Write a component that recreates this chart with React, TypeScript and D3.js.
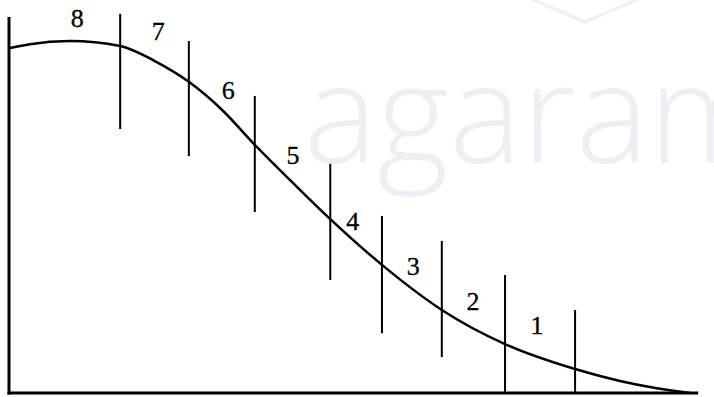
import React from "react";
import * as d3 from "d3";

// Curve samples (abstract units: x 0..100, y 0..100)
const curveX = [0, 2.9, 8.8, 16.2, 21.3, 26.3, 31.2, 36.0, 41.5, 47.1, 54.7, 63.5, 72.8, 83.1, 89.7, 94.9, 100];
const curveY = [98.0, 99.1, 100, 98.6, 94.3, 88.4, 80.4, 70.5, 59.9, 49.4, 36.4, 23.6, 13.9, 6.8, 3.4, 1.4, 0];

// Vertical marker lines
const markerX = [16.2, 26.3, 36.0, 47.1, 54.7, 63.5, 72.8, 83.1];
const markerTop = [107.7, 100, 84.4, 65.1, 50.3, 43.2, 33.5, 23.6];
const markerBottom = [75.0, 67.3, 51.4, 32.1, 17.0, 10.2, 0, 0];

// Segment labels
const labelText = ["8", "7", "6", "5", "4", "3", "2", "1"];
const labelX = [9.9, 21.8, 32.1, 41.6, 50.4, 59.3, 68.1, 77.5];
const labelY = [106.5, 102.6, 85.8, 67.6, 48.6, 35.8, 25.9, 19.3];

const W = 714;
const H = 397;

export default function App() {
  const x = d3.scaleLinear().domain([0, 100]).range([10, 690]);
  const y = d3.scaleLinear().domain([0, 100]).range([393, 41]);

  const pts = curveX.map((v, i) => [v, curveY[i]] as [number, number]);
  const line = d3
    .line<[number, number]>()
    .x((d) => x(d[0]))
    .y((d) => y(d[1]))
    .curve(d3.curveMonotoneX);

  return (
    <svg
      width={W}
      height={H}
      style={{ position: "absolute", left: 0, top: 0, background: "#fff" }}
    >
      {/* watermark */}
      <polyline
        points="527,-3 585,22 643,-3"
        fill="none"
        stroke="#eef0f2"
        strokeWidth={3}
        strokeLinejoin="round"
      />
      <text
        x={304}
        y={163}
        style={{ fontFamily: '"Open Sans", sans-serif', fontWeight: 300 }}
        fontSize={138}
        fill="#edeff2"
      >
        agaram
      </text>

      {/* axes */}
      <line x1={x(0) - 1} x2={x(0) - 1} y1={y(106.8)} y2={y(0) + 1.5} stroke="#000" strokeWidth={3} />
      <line x1={x(0) - 2.5} x2={x(101.2)} y1={y(0)} y2={y(0)} stroke="#000" strokeWidth={3} />

      {/* curve */}
      <path d={line(pts) || ""} fill="none" stroke="#000" strokeWidth={2.5} />

      {/* markers */}
      {markerX.map((m, i) => (
        <line
          key={i}
          x1={x(m)}
          x2={x(m)}
          y1={y(markerTop[i])}
          y2={y(markerBottom[i])}
          stroke="#000"
          strokeWidth={2}
        />
      ))}

      {/* labels */}
      {labelText.map((t, i) => (
        <text
          key={i}
          x={x(labelX[i])}
          y={y(labelY[i])}
          textAnchor="middle"
          dominantBaseline="central"
          style={{ fontFamily: '"Liberation Serif", "Times New Roman", serif' }}
          fontSize={26}
          fill="#000"
          stroke="#000"
          strokeWidth={0.3}
        >
          {t}
        </text>
      ))}
    </svg>
  );
}
